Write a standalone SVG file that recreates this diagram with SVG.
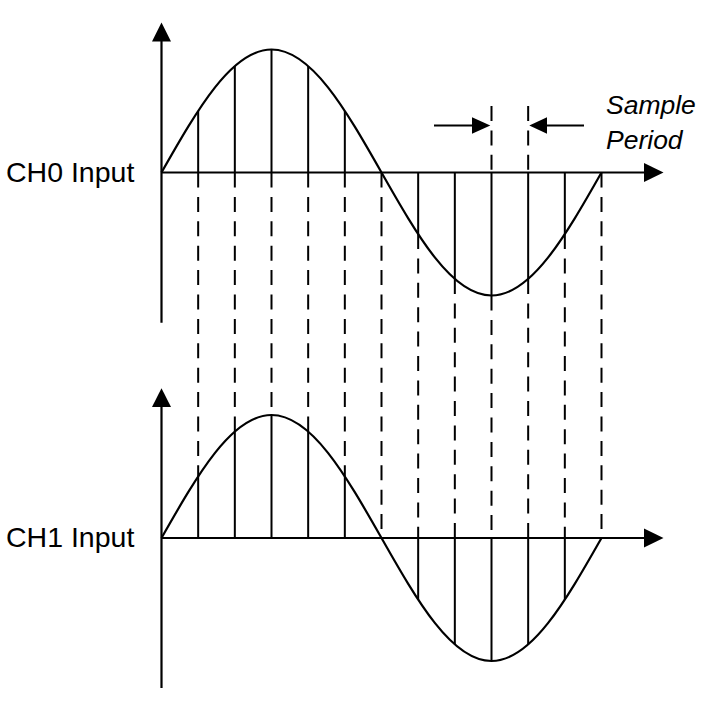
<svg xmlns="http://www.w3.org/2000/svg" width="721" height="713" viewBox="0 0 721 713">
<style>
.ax{stroke:#000;stroke-width:2.2;fill:none}
.wave{stroke:#000;stroke-width:2.2;fill:none}
.s{stroke:#000;stroke-width:2;fill:none}
.d{stroke:#000;stroke-width:2;fill:none;stroke-dasharray:15 9.4}
.ah{fill:#000;stroke:none}
.lbl{font-family:"Liberation Sans",Arial,sans-serif;font-size:28.5px;fill:#000}
.it{font-family:"Liberation Sans",Arial,sans-serif;font-size:26.5px;font-style:italic;fill:#000}
</style>
<rect width="721" height="713" fill="#fff"/>
<g id="connectors">
  <!-- dashed projection lines -->
  <path class="d" d="M198.17,172.5V476.5M234.83,172.5V431.5M271.5,172.5V415M308.17,172.5V431.5M344.83,172.5V476.5M381.5,172.5V538M418.17,234V538M454.83,279V538M491.5,295.5V538M528.17,279V538M564.83,234V538M601.5,172.5V538"/>
  <path class="d" d="M491.5,106V172.5M528.17,106V172.5"/>
</g>
<g id="ch0">
  <path class="ax" d="M161.5,41V322.7M161.5,172.5H646"/>
  <polygon class="ah" points="161.5,22.5 152,41.5 171,41.5"/>
  <polygon class="ah" points="663.5,172.5 644,163 644,182"/>
  <path class="wave" d="M161.5,172.5C197.37,109.4 231.69,49.5 271.5,49.5C311.31,49.5 345.63,109.4 381.5,172.5C417.37,235.6 451.69,295.5 491.5,295.5C531.31,295.5 565.63,235.6 601.5,172.5"/>
  <path class="s" d="M198.17,172.5V111M234.83,172.5V66M271.5,172.5V49.5M308.17,172.5V66M344.83,172.5V111M418.17,172.5V234M454.83,172.5V279M491.5,172.5V295.5M528.17,172.5V279M564.83,172.5V234"/>
  <text class="lbl" x="6" y="181.5">CH0 Input</text>
</g>
<g id="ch1">
  <path class="ax" d="M161.5,406V688M161.5,538H646"/>
  <polygon class="ah" points="161.5,388.3 152,407 171,407"/>
  <polygon class="ah" points="663.5,538 644,528.5 644,547.5"/>
  <path class="wave" d="M161.5,538C197.37,474.9 231.69,415 271.5,415C311.31,415 345.63,474.9 381.5,538C417.37,601.1 451.69,661 491.5,661C531.31,661 565.63,601.1 601.5,538"/>
  <path class="s" d="M198.17,538V476.5M234.83,538V431.5M271.5,538V415M308.17,538V431.5M344.83,538V476.5M418.17,538V599.5M454.83,538V644.5M491.5,538V661M528.17,538V644.5M564.83,538V599.5"/>
  <text class="lbl" x="6" y="546.5">CH1 Input</text>
</g>
<g id="sample-period">
  <path class="s" d="M434,125.5H474M584,125.5H545"/>
  <polygon class="ah" points="490.3,125.5 472,117.3 472,133.7"/>
  <polygon class="ah" points="529.3,125.5 547,117.3 547,133.7"/>
  <text class="it" x="606" y="114.3">Sample</text>
  <text class="it" x="606" y="148.5">Period</text>
</g>
</svg>
